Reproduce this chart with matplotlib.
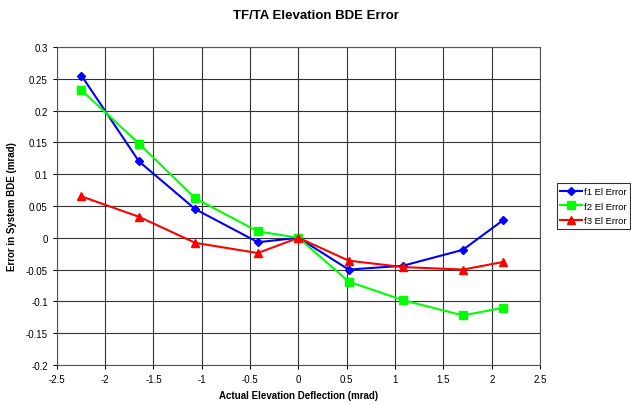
import matplotlib.pyplot as plt
import numpy as np

plt.rcParams["font.family"] = ["Liberation Sans", "DejaVu Sans"]

# deflection points (mrad) and measured BDE error for each channel
deflection = [-2.245, -1.65, -1.068, -0.42, 0.0, 0.52, 1.08, 1.70, 2.12]
f1_err = [0.255, 0.120, 0.045, -0.007, 0.0, -0.050, -0.044, -0.019, 0.028]
f2_err = [0.232, 0.148, 0.062, 0.010, 0.0, -0.069, -0.098, -0.122, -0.110]
f3_err = [0.065, 0.033, -0.008, -0.024, 0.0, -0.036, -0.046, -0.050, -0.038]

fig = plt.figure(figsize=(6.31, 4.06), dpi=100)
ax = fig.add_axes([0.090, 0.0985, 0.766, 0.7835])

ax.plot(deflection, f1_err, color="#0000FF", marker="D", markersize=4.5,
        linewidth=1.5, label="f1 El Error")
ax.plot(deflection, f2_err, color="#00FF00", marker="s", markersize=6,
        linewidth=1.5, label="f2 El Error")
ax.plot(deflection, f3_err, color="#FF0000", marker="^", markersize=6,
        linewidth=1.5, label="f3 El Error")

ax.set_xlim(-2.5, 2.5)
ax.set_ylim(-0.2, 0.3)
ax.set_xticks(np.arange(-2.5, 2.51, 0.5))
ax.set_yticks(np.arange(-0.2, 0.301, 0.05))
ax.set_xticklabels(["-2.5", "-2", "-1.5", "-1", "-0.5", "0", "0.5", "1", "1.5", "2", "2.5"])
ax.set_yticklabels(["-0.2", "-0.15", "-0.1", "-0.05", "0", "0.05", "0.1", "0.15", "0.2", "0.25", "0.3"])
ax.tick_params(labelsize=7, length=3, width=0.8, colors="black")
ax.grid(True, color="#333333", linewidth=0.8)
for s in ax.spines.values():
    s.set_color("#555555")
    s.set_linewidth(0.8)

fig.suptitle("TF/TA Elevation BDE Error", x=0.5, y=0.975, fontsize=9.5, fontweight="bold")
ax.set_xlabel("Actual Elevation Deflection (mrad)", fontsize=7, fontweight="bold", labelpad=4)
ax.set_ylabel("Error in System BDE (mrad)", fontsize=7, fontweight="bold", labelpad=6)

leg = fig.legend(loc="upper left", bbox_to_anchor=(0.882, 0.546), fontsize=6.8,
                 frameon=True, fancybox=False, edgecolor="black", handlelength=2.3,
                 borderpad=0.4, labelspacing=0.6, handletextpad=0.2, borderaxespad=0)
leg.get_frame().set_linewidth(0.8)

fig.savefig("out.png", dpi=100)
